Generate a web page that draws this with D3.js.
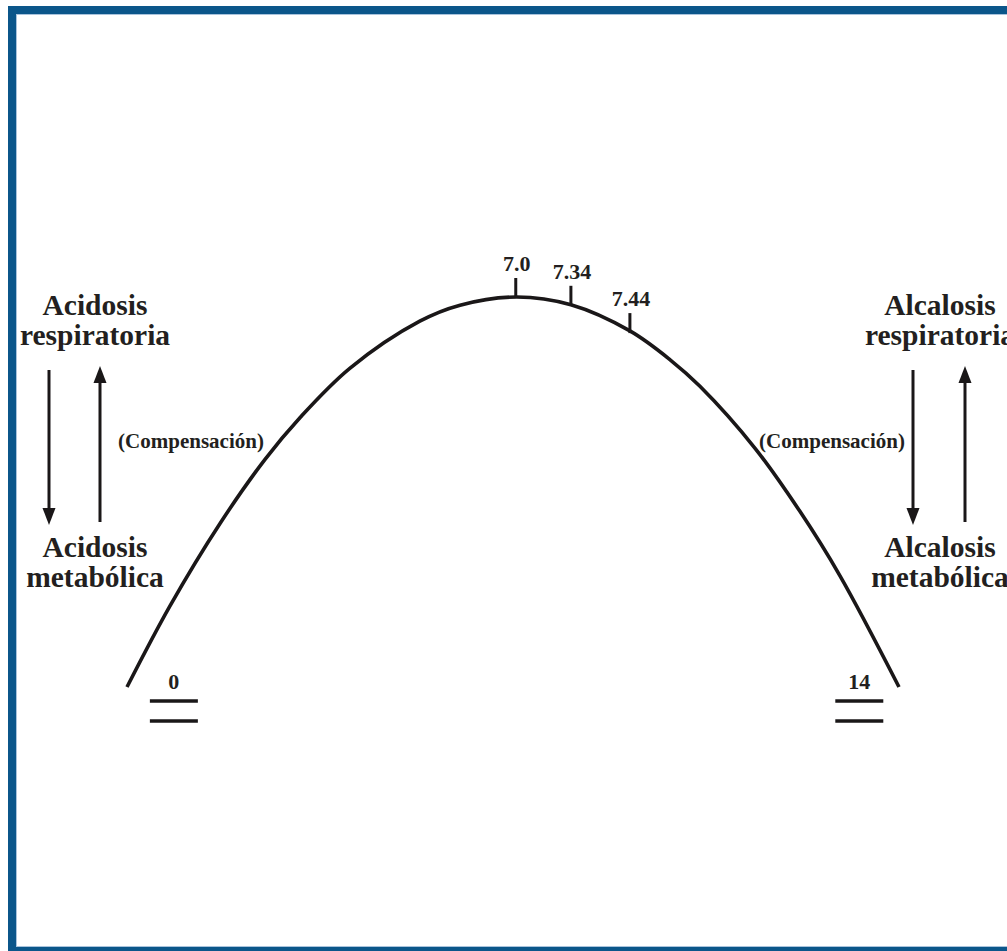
<!DOCTYPE html>
<html lang="es">
<head>
    <meta charset="UTF-8">
    <title>Curva de pH</title>
    <script src="https://cdn.jsdelivr.net/npm/d3@7/dist/d3.min.js" type="text/javascript"></script>
    <style>
        body{ margin:0; background:#fff; }
        text{ font-family: "Liberation Serif", "Times New Roman", serif; font-weight: bold; fill:#231f20; }
        .big{ font-size: 29.5px; }
        .comp{ font-size: 21px; }
        .num{ font-size: 22px; }
        path.curve{ fill:none; stroke:#1a1718; stroke-width:3.6px; stroke-linecap:butt; }
        line.tick, line.arrow, line.base{ stroke:#1a1718; }
    </style>
</head>
<body>
<svg id="main" width="1007" height="951"></svg>
<script>
    // curve: position along the pH axis (0..14) and height (0 = ends, 100 = top)
    let curveX = [0, 0.78, 1.69, 2.50, 3.14, 4.04, 5.31, 6.04, 7.07, 8.05, 9.12, 9.85, 10.39, 11.39, 12.20, 12.93, 14];
    let curveH = [0, 20.8, 42.0, 58.3, 69.1, 81.7, 93.8, 97.9, 100, 98.0, 91.3, 83.9, 77.1, 61.2, 45.1, 28.5, 0];

    // marks on the top of the curve
    let tickLabels = ['7.0', '7.34', '7.44'];
    let tickX = [7.05, 8.05, 9.12];
    let tickH = [100, 98.0, 91.0];

    // ends of the scale
    let endLabels = ['0', '14'];
    let endX = [0.85, 13.28];

    // side labels
    let topLabels = [['Acidosis', 'respiratoria'], ['Alcalosis', 'respiratoria']];
    let bottomLabels = [['Acidosis', 'metabólica'], ['Alcalosis', 'metabólica']];
    let compLabel = '(Compensación)';

    let svg = d3.select('svg#main');
    let W = 1007, H = 951;

    // scales
    let xScale = d3.scaleLinear().domain([0, 14]).range([127, 899]);
    let yScale = d3.scaleLinear().domain([0, 100]).range([687, 297]);

    // frame (cut off on the right)
    svg.append('rect')
        .attr('x', 12).attr('y', 10)
        .attr('width', W + 20).attr('height', 941)
        .attr('fill', 'none')
        .attr('stroke', '#0b568a')
        .attr('stroke-width', 8);
    svg.append('rect')
        .attr('x', 16.5).attr('y', 14.5)
        .attr('width', W + 20).attr('height', 932)
        .attr('fill', 'none')
        .attr('stroke', '#a9c3dc')
        .attr('stroke-width', 1);

    // the curve
    let pts = d3.zip(curveX, curveH);
    let line = d3.line()
        .x(function(d){ return xScale(d[0]); })
        .y(function(d){ return yScale(d[1]); })
        .curve(d3.curveCatmullRom.alpha(0.5));
    svg.append('path').attr('class', 'curve').attr('d', line(pts));

    // ticks and labels on the curve
    let tickLen = 19;
    let ticks = svg.append('g');
    tickLabels.forEach(function(lab, i){
        let x = xScale(tickX[i]), y = yScale(tickH[i]);
        ticks.append('line').attr('class', 'tick')
            .attr('x1', x).attr('x2', x)
            .attr('y1', y + 1).attr('y2', y - tickLen)
            .attr('stroke-width', 3);
        ticks.append('text').attr('class', 'num')
            .attr('x', x + 1).attr('y', y - tickLen - 7)
            .attr('text-anchor', 'middle')
            .text(lab);
    });

    // 0 and 14 with double bars
    let ends = svg.append('g');
    endLabels.forEach(function(lab, i){
        let cx = xScale(endX[i]);
        ends.append('text').attr('class', 'num')
            .attr('x', cx).attr('y', 689)
            .attr('text-anchor', 'middle')
            .text(lab);
        [701, 721].forEach(function(yy){
            ends.append('line').attr('class', 'base')
                .attr('x1', cx - 24).attr('x2', cx + 24)
                .attr('y1', yy).attr('y2', yy)
                .attr('stroke-width', 3.6);
        });
    });

    // side labels
    let sideX = [95, 940];
    let side = svg.append('g');
    sideX.forEach(function(cx, i){
        topLabels[i].forEach(function(t, j){
            side.append('text').attr('class', 'big')
                .attr('x', cx).attr('y', 315 + j * 30)
                .attr('text-anchor', 'middle').text(t);
        });
        bottomLabels[i].forEach(function(t, j){
            side.append('text').attr('class', 'big')
                .attr('x', cx).attr('y', 557 + j * 30)
                .attr('text-anchor', 'middle').text(t);
        });
    });

    // compensation labels
    svg.append('text').attr('class', 'comp')
        .attr('x', 191).attr('y', 448).attr('text-anchor', 'middle').text(compLabel);
    svg.append('text').attr('class', 'comp')
        .attr('x', 832).attr('y', 448).attr('text-anchor', 'middle').text(compLabel);

    // arrows
    function arrow(x, yFrom, yTo){
        let dir = yTo > yFrom ? 1 : -1;
        let headLen = 17, headW = 6.5;
        svg.append('line').attr('class', 'arrow')
            .attr('x1', x).attr('x2', x)
            .attr('y1', yFrom).attr('y2', yTo - dir * headLen + dir * 2)
            .attr('stroke-width', 3);
        svg.append('path')
            .attr('d', d3.line()([[x, yTo], [x - headW, yTo - dir * headLen], [x + headW, yTo - dir * headLen]]) + 'Z')
            .attr('fill', '#1a1718');
    }
    arrow(49, 370, 525);
    arrow(100, 522, 366);
    arrow(913, 370, 525);
    arrow(965, 522, 366);
</script>
</body>
</html>
